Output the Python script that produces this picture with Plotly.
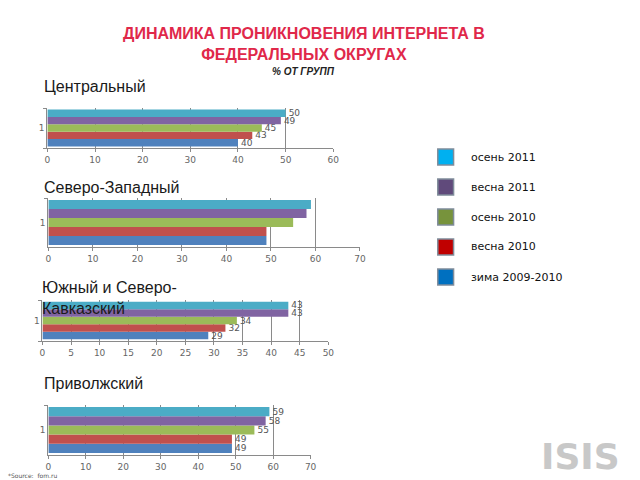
import plotly.graph_objects as go

series = ["зима 2009-2010", "весна 2010", "осень 2010", "весна 2011", "осень 2011"]
bar_colors = ["#4F81BD", "#C0504D", "#9BBB59", "#8064A2", "#4BACC6"]
legend_colors = ["#0070C0", "#C00000", "#77933C", "#604A7B", "#00B0F0"]

regions = ["Центральный", "Северо-Западный", "Южный и Северо-<br>Кавказский", "Приволжский"]
values = {
    "Центральный": [40, 43, 45, 49, 50],
    "Северо-Западный": [49, 49, 55, 58, 59],
    "Южный и Северо-<br>Кавказский": [29, 32, 34, 43, 43],
    "Приволжский": [49, 49, 55, 58, 59],
}
show_labels = [True, False, True, True]
x_max = [60, 70, 50, 70]
x_dtick = [10, 10, 5, 10]
category = ["1"]

W, H = 640, 480
# plot areas in pixels: (x0, x1, ytop, ybottom)
areas = [(45, 335, 108, 148), (46, 362, 198, 247), (40, 330, 300, 341), (46, 312, 405, 455)]
heading_y = [86, 187, 298, 383]

fig = go.Figure()
for i, reg in enumerate(regions):
    ax = "" if i == 0 else str(i + 1)
    for s, name in enumerate(series):
        v = values[reg][s]
        fig.add_trace(go.Bar(
            x=[v], y=category, orientation="h", name=name,
            marker=dict(color=bar_colors[s], line=dict(width=0)),
            text=[str(v)] if show_labels[i] else None,
            textposition="outside", constraintext="none", cliponaxis=False,
            textfont=dict(size=9, color="#555", family="DejaVu Sans"),
            xaxis="x" + ax, yaxis="y" + ax, showlegend=False,
        ))
    x0, x1, yt, yb = areas[i]
    fig.layout["xaxis" + ax] = dict(
        domain=[x0 / W, x1 / W], anchor="y" + ax, range=[0, x_max[i]], dtick=x_dtick[i],
        showgrid=True, gridcolor="#8a8a8a", gridwidth=1, zeroline=False,
        showline=True, linecolor="#8a8a8a", ticks="outside", ticklen=3, tickcolor="#8a8a8a",
        tickfont=dict(size=9, color="#666", family="DejaVu Sans"), fixedrange=True,
    )
    fig.layout["yaxis" + ax] = dict(
        domain=[1 - yb / H, 1 - yt / H], anchor="x" + ax, type="category",
        showline=True, linecolor="#8a8a8a", ticks="outside", ticklen=3, tickcolor="#8a8a8a",
        tickson="boundaries", showgrid=False,
        tickfont=dict(size=9, color="#666", family="DejaVu Sans"), fixedrange=True,
    )
    fig.add_annotation(
        text=reg, x=40 / W if i != 2 else 38 / W, y=1 - heading_y[i] / H, xref="paper", yref="paper",
        xanchor="left", yanchor="middle", showarrow=False, align="left",
        font=dict(size=16, color="#1a1a1a", family="Liberation Sans"),
    )

fig.update_layout(barmode="group", bargap=0.08, bargroupgap=0)

# Title
fig.add_annotation(text="<b>ДИНАМИКА ПРОНИКНОВЕНИЯ ИНТЕРНЕТА В<br>ФЕДЕРАЛЬНЫХ ОКРУГАХ</b>",
                   x=305 / W, y=1 - 44 / H, xref="paper", yref="paper", showarrow=False,
                   xanchor="center", yanchor="middle", align="center",
                   font=dict(size=16, color="#E0284A", family="Liberation Sans"))
fig.add_annotation(text="<b><i>% ОТ ГРУПП</i></b>", x=305 / W, y=1 - 71 / H, xref="paper", yref="paper",
                   showarrow=False, xanchor="center", yanchor="middle",
                   font=dict(size=10, color="#222", family="Liberation Sans"))

# Legend
leg_y = [157, 187, 217, 247, 277]
for k in range(5):
    s = 4 - k
    yc = leg_y[k]
    fig.add_shape(type="rect", xref="paper", yref="paper",
                  x0=441 / W, x1=457 / W, y0=1 - (yc + 8) / H, y1=1 - (yc - 8) / H,
                  fillcolor=legend_colors[s], line=dict(color="#7f8c9a", width=1.5))
    fig.add_annotation(text=series[s], x=473 / W, y=1 - yc / H, xref="paper", yref="paper",
                       showarrow=False, xanchor="left", yanchor="middle",
                       font=dict(size=11, color="#111", family="DejaVu Sans"))

# Source
fig.add_annotation(text="*Source:  fom.ru", x=3 / W, y=1 - 475 / H, xref="paper", yref="paper",
                   showarrow=False, xanchor="left", yanchor="middle",
                   font=dict(size=6, color="#555", family="DejaVu Sans"))

# Logo
fig.add_annotation(text="<b>ISIS</b>", x=586 / W, y=1 - 456 / H, xref="paper", yref="paper",
                   showarrow=False, xanchor="center", yanchor="middle",
                   font=dict(size=36, color="#c8c8c8", family="DejaVu Sans"))

fig.update_layout(width=W, height=H, margin=dict(l=0, r=0, t=0, b=0),
                  paper_bgcolor="white", plot_bgcolor="white", showlegend=False)

fig.write_html("out.html")
